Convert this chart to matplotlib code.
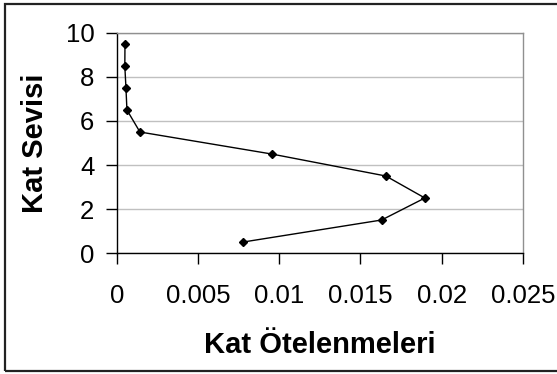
import matplotlib
matplotlib.use('Agg')
import matplotlib.pyplot as plt
from matplotlib.patches import Rectangle

# kat oteleme oranlari (x) ve kat seviyeleri (y)
otelenme = [0.00779, 0.0163, 0.01896, 0.01656, 0.00953, 0.00143, 0.00063, 0.00057, 0.0005, 0.00051]
kat = [0.5, 1.5, 2.5, 3.5, 4.5, 5.5, 6.5, 7.5, 8.5, 9.5]
xticks = [0, 0.005, 0.01, 0.015, 0.02, 0.025]
xticklabels = ['0', '0.005', '0.01', '0.015', '0.02', '0.025']
yticks = [0, 2, 4, 6, 8, 10]

plt.rcParams['font.family'] = ['Liberation Sans', 'DejaVu Sans']

fig = plt.figure(figsize=(5.57, 3.74), dpi=100)
ax = fig.add_axes([0.2095, 0.3235, 0.7295, 0.5883])

# outer chart border (right edge falls outside the picture)
fig.patches.append(Rectangle((0.009, 0.007), 1.2, 0.982, transform=fig.transFigure,
                             fill=False, edgecolor='#222222', linewidth=1.6))

ax.plot(otelenme, kat, color='black', linewidth=1, marker='D', markersize=4.5,
        markerfacecolor='black', markeredgecolor='black', clip_on=False)

ax.set_xlim(0, 0.025)
ax.set_ylim(0, 10)
ax.set_xticks(xticks)
ax.set_xticklabels(xticklabels)
ax.set_yticks(yticks)

ax.grid(axis='y', color='#c0c0c0', linewidth=1)
ax.set_axisbelow(True)

for side in ['top', 'right']:
    ax.spines[side].set_color('#909090')
for side in ['left', 'bottom']:
    ax.spines[side].set_color('black')
for s in ax.spines.values():
    s.set_linewidth(1)

ax.tick_params(axis='both', direction='out', length=8, width=1, labelsize=18.5, colors='black')
ax.tick_params(axis='x', pad=14)
ax.tick_params(axis='y', pad=8)

ax.set_xlabel('Kat Ötelenmeleri', fontsize=21, fontweight='bold', labelpad=17)
ax.set_ylabel('Kat Sevisi', fontsize=21, fontweight='bold', labelpad=12)

fig.savefig('out.png', dpi=100)
